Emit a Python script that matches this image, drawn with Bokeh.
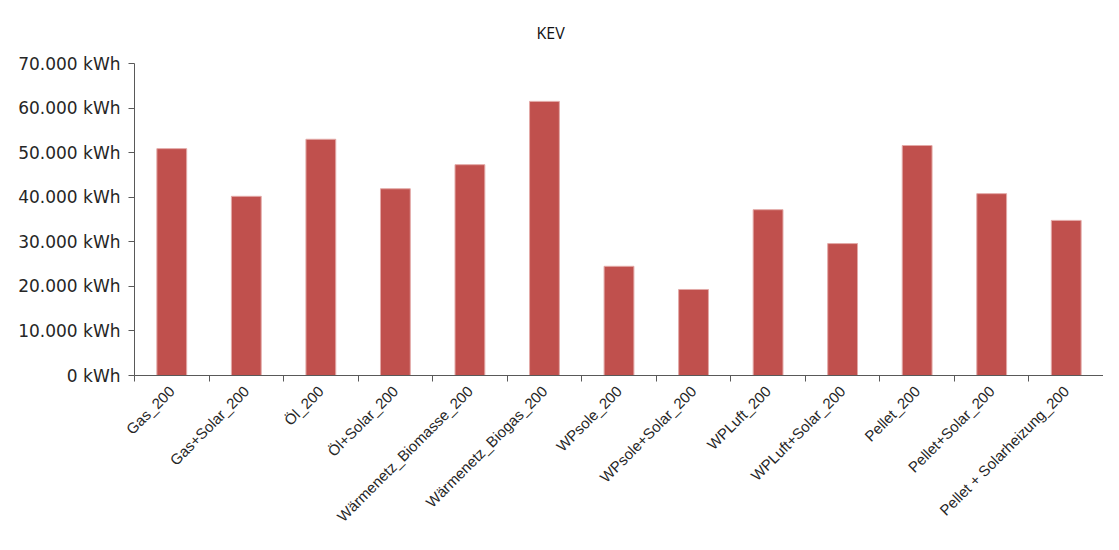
import math
from bokeh.plotting import figure
from bokeh.models import FixedTicker, Range1d
from bokeh.embed import file_html
from bokeh.resources import INLINE

categories = [
    "Gas_200", "Gas+Solar_200", "Öl_200", "Öl+Solar_200",
    "Wärmenetz_Biomasse_200", "Wärmenetz_Biogas_200", "WPsole_200",
    "WPsole+Solar_200", "WPLuft_200", "WPLuft+Solar_200", "Pellet_200",
    "Pellet+Solar_200", "Pellet + Solarheizung_200",
]
values = [50900, 40200, 53000, 41900, 47300, 61500, 24500,
          19300, 37200, 29600, 51600, 40800, 34800]
y_ticks = [0, 10000, 20000, 30000, 40000, 50000, 60000, 70000]
y_tick_labels = ["0 kWh", "10.000 kWh", "20.000 kWh", "30.000 kWh",
                 "40.000 kWh", "50.000 kWh", "60.000 kWh", "70.000 kWh"]

AXIS_COLOR = "#595959"
TEXT_COLOR = "#262626"

n = len(categories)
xs = list(range(1, n + 1))

p = figure(width=1103, height=534, output_backend="svg", toolbar_location=None,
           x_range=Range1d(0.5, n + 0.5), y_range=Range1d(y_ticks[0], y_ticks[-1]),
           title="KEV",
           min_border_left=134, min_border_right=0, min_border_top=63,
           min_border_bottom=159)

p.vbar(x=xs, top=values, width=0.4, fill_color="#C0504D",
       line_color="#E3A9A7", line_width=1)

p.xgrid.grid_line_color = None
p.ygrid.grid_line_color = None
p.outline_line_color = None
p.background_fill_color = "white"
p.border_fill_color = "white"

p.title.align = "left"
p.title.offset = 402
p.title.standoff = 39
p.title.text_font = "Open Sans"
p.title.text_font_size = "16px"
p.title.text_font_style = "normal"
p.title.text_color = "#111111"

xa = p.xaxis[0]
xa.ticker = FixedTicker(ticks=xs, minor_ticks=[i + 0.5 for i in range(0, n + 1)])
xa.major_label_overrides = {i: c for i, c in zip(xs, categories)}
xa.major_label_orientation = math.pi / 4
xa.major_tick_in = 0
xa.major_tick_out = 0
xa.minor_tick_in = 0
xa.minor_tick_out = 6
xa.minor_tick_line_color = AXIS_COLOR
xa.axis_line_color = AXIS_COLOR
xa.major_label_text_font = "Liberation Sans"
xa.major_label_text_font_size = "15px"
xa.major_label_text_color = TEXT_COLOR
xa.major_label_standoff = 7

ya = p.yaxis[0]
ya.ticker = FixedTicker(ticks=y_ticks, minor_ticks=[])
ya.major_label_overrides = {t: l for t, l in zip(y_ticks, y_tick_labels)}
ya.major_tick_in = 0
ya.major_tick_out = 6
ya.major_tick_line_color = AXIS_COLOR
ya.axis_line_color = AXIS_COLOR
ya.major_label_text_font = "DejaVu Sans"
ya.major_label_text_font_size = "17px"
ya.major_label_text_color = TEXT_COLOR
ya.major_label_standoff = 8

open("out.html", "w").write(file_html(p, INLINE))
